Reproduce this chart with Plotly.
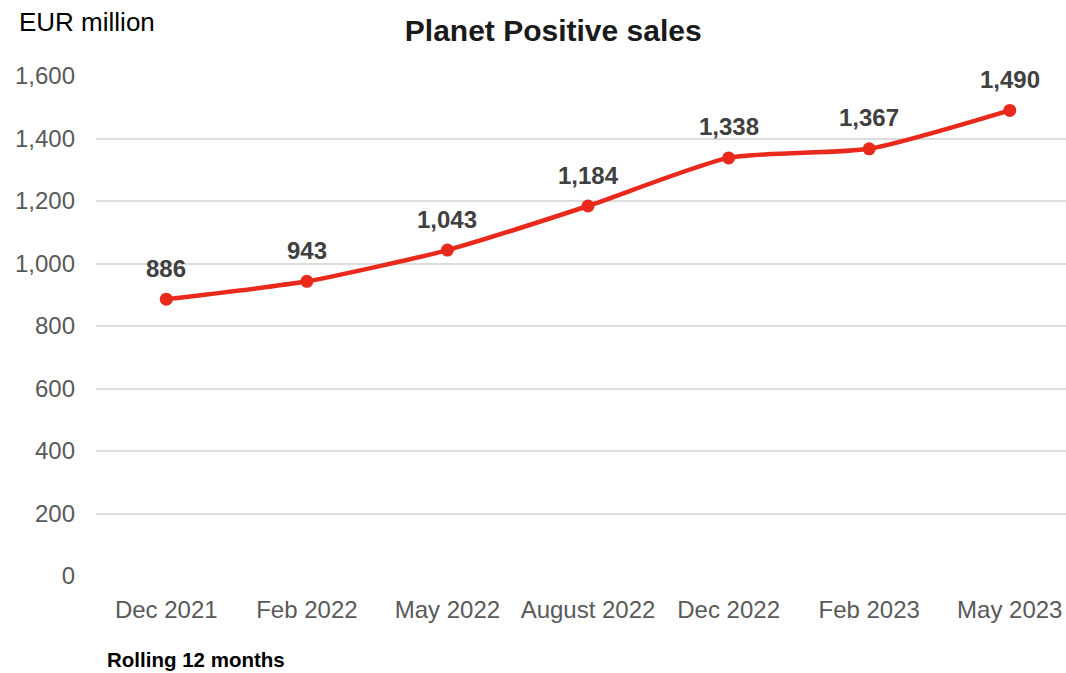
import plotly.graph_objects as go

periods = ['Dec 2021', 'Feb 2022', 'May 2022', 'August 2022', 'Dec 2022', 'Feb 2023', 'May 2023']
sales = [886, 943, 1043, 1184, 1338, 1367, 1490]
labels = [f"{v:,}" for v in sales]

RED = '#e8291c'
FONT = 'Liberation Sans, Arial'

fig = go.Figure()
fig.add_trace(go.Scatter(
    x=list(range(len(periods))), y=sales,
    mode='lines+markers',
    line=dict(color=RED, width=4.5, shape='spline', smoothing=0.6),
    marker=dict(color=RED, size=13),
    showlegend=False,
))

# value labels above each point
for i, (v, t) in enumerate(zip(sales, labels)):
    fig.add_annotation(x=i, y=v, text=f"<b>{t}</b>", showarrow=False, yshift=31,
                       yanchor='middle', font=dict(family=FONT, size=24, color='#404040'))

fig.add_annotation(text='EUR million', xref='paper', yref='paper', x=-0.0815, y=1.108,
                   xanchor='left', yanchor='middle', showarrow=False,
                   font=dict(family=FONT, size=26, color='#000000'))
fig.add_annotation(text='<b>Rolling 12 months</b>', xref='paper', yref='paper', x=0.0093, y=-0.166,
                   xanchor='left', yanchor='middle', showarrow=False,
                   font=dict(family=FONT, size=20.5, color='#000000'))

fig.update_layout(
    width=1066, height=673,
    margin=dict(l=96, r=0, t=76, b=97),
    paper_bgcolor='white', plot_bgcolor='white',
    font=dict(family=FONT, size=24, color='#595959'),
    title=dict(text='<b>Planet Positive sales</b>', x=0.519, xanchor='center', y=0.955, yanchor='middle',
               font=dict(size=30, color='#1a1a1a')),
    xaxis=dict(tickmode='array', tickvals=list(range(len(periods))), ticktext=periods,
               range=[-0.5, 6.4], showgrid=False, zeroline=False, showline=False,
               ticks='', ticklabelstandoff=17, automargin=False, ticklabeloverflow='allow'),
    yaxis=dict(range=[0, 1600], dtick=200, tickformat=',', showgrid=True, gridcolor='#dcdcdc',
               gridwidth=2, zeroline=False, showline=False, ticks='', ticklabelstandoff=20,
               automargin=False),
)

# drop the page's default body margin so the figure fills the window exactly
fig.write_html("out.html", config={'displayModeBar': False},
               post_script="document.body.style.margin='0';document.body.style.overflow='hidden';")
